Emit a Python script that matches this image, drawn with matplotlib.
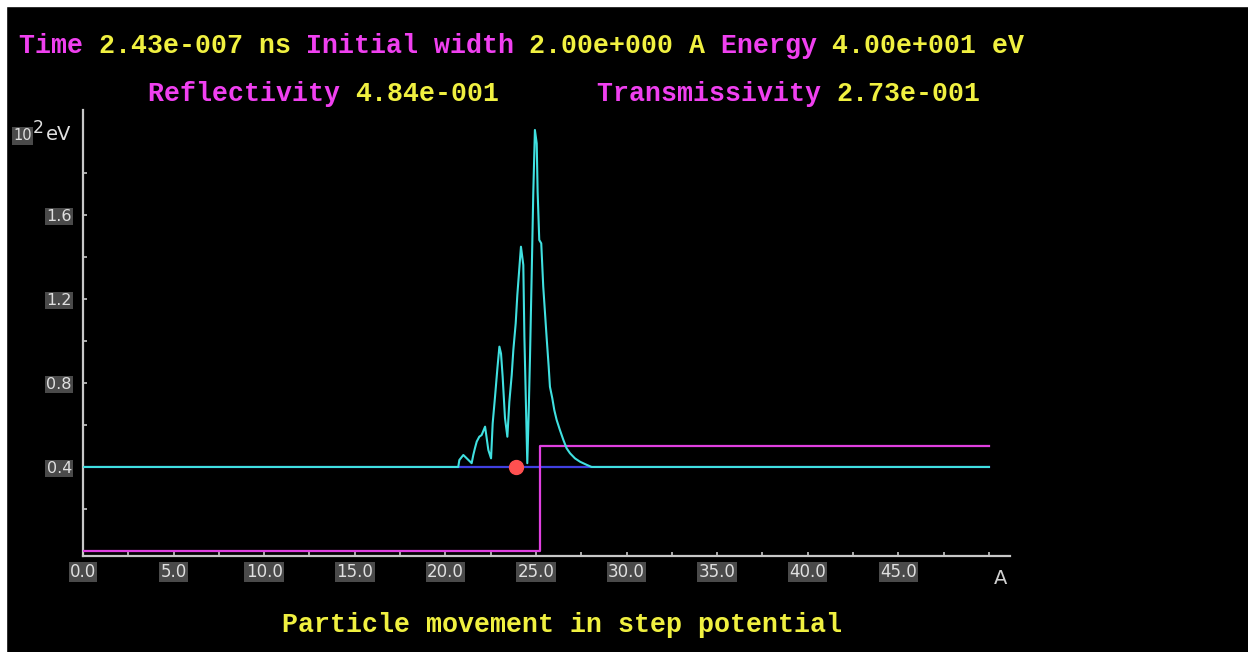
import matplotlib
matplotlib.use("Agg")
import matplotlib.pyplot as plt
from matplotlib.patches import Rectangle

# Position (A) et densité de probabilité décalée de l'énergie (10^2 eV)
onde_x = [0.0, 19.98, 20.71, 20.77, 20.99, 21.45, 21.54, 21.63, 21.73, 21.87, 22.0,
          22.19, 22.37, 22.52, 22.61, 22.74, 22.87, 22.98, 23.07, 23.16, 23.29,
          23.42, 23.53, 23.66, 23.75, 23.88, 23.97, 24.08, 24.17, 24.3, 24.36,
          24.45, 24.52, 24.6, 24.67, 24.76, 24.85, 24.94, 25.04, 25.09, 25.18,
          25.29, 25.4, 25.5, 25.59, 25.7, 25.77, 25.9, 26.01, 26.14, 26.32,
          26.51, 26.69, 26.88, 27.15, 27.43, 27.8, 28.07, 50.0]
onde_y = [0.4, 0.4, 0.4, 0.433, 0.457, 0.418, 0.457, 0.489, 0.521, 0.544, 0.552,
          0.592, 0.481, 0.441, 0.608, 0.735, 0.87, 0.973, 0.94, 0.83, 0.632,
          0.544, 0.711, 0.838, 0.957, 1.084, 1.219, 1.346, 1.449, 1.362, 1.02,
          0.679, 0.418, 0.671, 0.925, 1.306, 1.703, 2.005, 1.941, 1.711, 1.481,
          1.465, 1.259, 1.13, 1.013, 0.878, 0.782, 0.727, 0.671, 0.624, 0.576,
          0.529, 0.489, 0.465, 0.441, 0.425, 0.41, 0.4, 0.4]

# Potentiel en marche
potentiel_x = [0.0, 25.2, 25.2, 50.0]
potentiel_y = [0.0, 0.0, 0.5, 0.5]

energie = 0.4          # 40 eV
position_particule = 23.9

graduations_x = [0.0, 5.0, 10.0, 15.0, 20.0, 25.0, 30.0, 35.0, 40.0, 45.0]
graduations_y = [0.4, 0.8, 1.2, 1.6]

ligne1 = [("Time ", "m"), ("2.43e-007 ns ", "j"), ("Initial width ", "m"),
          ("2.00e+000 A ", "j"), ("Energy ", "m"), ("4.00e+001 eV", "j")]
ligne2a = [("Reflectivity ", "m"), ("4.84e-001", "j")]
ligne2b = [("Transmissivity ", "m"), ("2.73e-001", "j")]
titre_bas = "Particle movement in step potential"

L, H = 1248, 652
MAGENTA = "#f040f0"
JAUNE = "#f0f040"
GRIS = "#c8c8c8"
couleurs = {"m": MAGENTA, "j": JAUNE}

fig = plt.figure(figsize=(L / 100, H / 100), dpi=100, facecolor="black")

# bordure blanche en haut et à gauche
fig.patches.append(Rectangle((0, 1 - 6 / H), 1, 6 / H, transform=fig.transFigure,
                             color="white", zorder=0))
fig.patches.append(Rectangle((0, 0), 6 / L, 1, transform=fig.transFigure,
                             color="white", zorder=0))

ax = fig.add_axes([83 / L, (H - 556) / H, 927 / L, 446 / H])
ax.set_facecolor("black")
ax.set_xlim(0, 51.16)
ax.set_ylim(-0.024, 2.1)

ax.plot([0, 50], [energie, energie], color="#4040e0", lw=1.6, zorder=2)
ax.plot(potentiel_x, potentiel_y, color="#e040e0", lw=1.6, zorder=3)
ax.plot(onde_x, onde_y, color="#40e0e0", lw=1.5, zorder=4)
ax.plot([position_particule], [energie], "o", color="#ff5050", ms=10, zorder=5)

for s in ["top", "right"]:
    ax.spines[s].set_visible(False)
for s in ["left", "bottom"]:
    ax.spines[s].set_color(GRIS)
    ax.spines[s].set_linewidth(1.6)

pas_x = [i * 2.5 for i in range(21)]
ax.set_xticks(pas_x)
ax.set_xticklabels(["%.1f" % v if v in graduations_x else "" for v in pas_x])
pas_y = [round(0.2 * i, 1) for i in range(1, 10)]
ax.set_yticks(pas_y)
ax.set_yticklabels(["%.1f" % v if v in graduations_y else "" for v in pas_y])
ax.tick_params(direction="in", length=3, width=1.2, color=GRIS,
               labelcolor="#e0e0e0", labelsize=12)
ax.tick_params(axis="x", pad=5)
ax.tick_params(axis="y", pad=8, labelsize=11.5)
for lbl in ax.get_xticklabels() + ax.get_yticklabels():
    if lbl.get_text():
        lbl.set_bbox(dict(facecolor="#4a4a4a", edgecolor="none", pad=1))

# unités des axes
fig.text(13 / L, 1 - 136 / H, "10", color="#e0e0e0", fontsize=10.5, va="center",
         bbox=dict(facecolor="#4a4a4a", edgecolor="none", pad=0.8))
fig.text(33 / L, 1 - 128 / H, "2", color="#e0e0e0", fontsize=12.5, va="center")
fig.text(46 / L, 1 - 135 / H, "eV", color="#e0e0e0", fontsize=14, va="center")
fig.text(1001 / L, 1 - 578 / H, "A", color="#d0d0d0", fontsize=14, va="center",
         ha="center")

# textes en police à chasse fixe
cw = 15.95
police = dict(family="Liberation Mono", weight="bold", fontsize=cw / 0.6 * 0.72,
              va="center")


def ecrire(segments, x0, y):
    n = 0
    for texte, c in segments:
        fig.text((x0 + n * cw) / L, 1 - y / H, texte, color=couleurs[c], **police)
        n += len(texte)


ecrire(ligne1, 19, 46)
ecrire(ligne2a, 148, 94)
ecrire(ligne2b, 597, 94)
ecrire([(titre_bas, "j")], 282, 625)

fig.savefig("out.png", dpi=100, facecolor="black")
